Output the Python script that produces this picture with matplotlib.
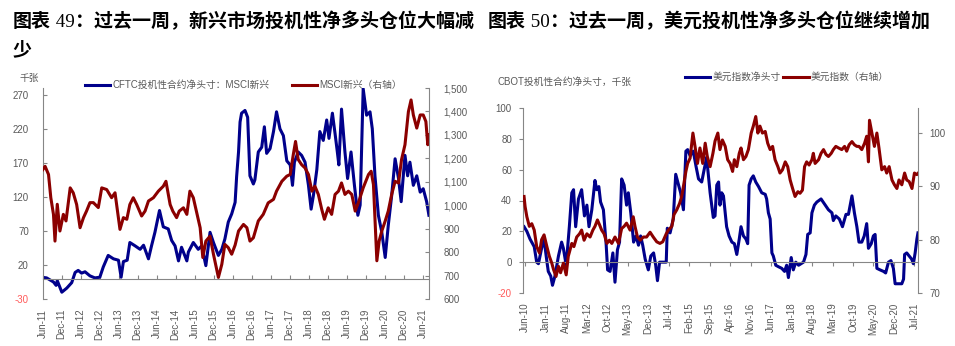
import matplotlib
matplotlib.use("Agg")
import matplotlib.pyplot as plt
from matplotlib.offsetbox import TextArea, HPacker, AnnotationBbox

plt.rcParams['font.family'] = ['Liberation Sans', 'Noto Sans CJK SC']
plt.rcParams['axes.unicode_minus'] = False

# ---- chart 49: CFTC net position on MSCI EM (k contracts) vs MSCI EM index ----
em_pos_t = [2011.39, 2011.52, 2011.70, 2011.77, 2011.80, 2011.92, 2012.05, 2012.18, 2012.27, 2012.35,
            2012.44, 2012.53, 2012.66, 2012.79, 2012.92, 2013.01, 2013.14, 2013.28, 2013.41, 2013.48,
            2013.54, 2013.64, 2013.71, 2013.85, 2013.98, 2014.07, 2014.20, 2014.28, 2014.37, 2014.49,
            2014.59, 2014.72, 2014.81, 2014.90, 2014.99, 2015.07, 2015.21, 2015.25, 2015.38, 2015.51,
            2015.60, 2015.71, 2015.82, 2015.91, 2016.04, 2016.13, 2016.21, 2016.30, 2016.39, 2016.48,
            2016.52, 2016.57, 2016.61, 2016.65, 2016.74, 2016.81, 2016.87, 2016.96, 2017.00, 2017.09,
            2017.18, 2017.25, 2017.31, 2017.40, 2017.49, 2017.57, 2017.66, 2017.75, 2017.84, 2017.93,
            2017.99, 2018.04, 2018.14, 2018.23, 2018.32, 2018.41, 2018.48, 2018.54, 2018.63, 2018.71,
            2018.80, 2018.89, 2018.95, 2019.04, 2019.11, 2019.17, 2019.21, 2019.28, 2019.37, 2019.44,
            2019.53, 2019.62, 2019.71, 2019.77, 2019.85, 2019.94, 2020.03, 2020.09, 2020.16, 2020.25,
            2020.34, 2020.43, 2020.51, 2020.60, 2020.69, 2020.78, 2020.85, 2020.95, 2021.02, 2021.08,
            2021.17, 2021.26, 2021.35, 2021.43, 2021.52, 2021.58]
em_pos = [2, 1, -5, -10, -3, -20, -14, -6, 9, 12,
          8, 10, 4, 1, 2, 17, 34, 29, 27, 2,
          25, 27, 53, 48, 43, 49, 29, 48, 68, 100,
          76, 73, 56, 48, 26, 46, 26, 39, 53, 43,
          48, 19, 68, 53, 34, 43, 58, 83, 95, 112,
          150, 186, 230, 243, 247, 237, 151, 139, 145, 186,
          193, 223, 184, 191, 216, 245, 220, 210, 173, 167,
          137, 171, 186, 181, 171, 137, 102, 122, 160, 216,
          203, 233, 206, 243, 213, 186, 167, 249, 186, 147,
          186, 137, 93, 108, 279, 240, 245, 220, 151, 93,
          68, 31, 78, 122, 176, 147, 113, 181, 151, 171,
          137, 151, 127, 132, 113, 93]

em_idx_t = [2011.39, 2011.48, 2011.57, 2011.63, 2011.70, 2011.74, 2011.80, 2011.87, 2011.96, 2012.03,
            2012.14, 2012.22, 2012.31, 2012.40, 2012.49, 2012.57, 2012.66, 2012.75, 2012.88, 2012.97,
            2013.10, 2013.23, 2013.32, 2013.45, 2013.54, 2013.63, 2013.71, 2013.80, 2013.89, 2014.02,
            2014.11, 2014.20, 2014.33, 2014.46, 2014.59, 2014.66, 2014.77, 2014.84, 2014.94, 2015.01,
            2015.12, 2015.21, 2015.29, 2015.38, 2015.47, 2015.56, 2015.63, 2015.71, 2015.82, 2015.91,
            2016.04, 2016.13, 2016.21, 2016.30, 2016.39, 2016.48, 2016.57, 2016.70, 2016.79, 2016.87,
            2016.96, 2017.09, 2017.22, 2017.35, 2017.49, 2017.57, 2017.71, 2017.84, 2017.93, 2018.01,
            2018.07, 2018.14, 2018.23, 2018.32, 2018.41, 2018.50, 2018.58, 2018.67, 2018.76, 2018.83,
            2018.93, 2019.02, 2019.11, 2019.20, 2019.28, 2019.37, 2019.46, 2019.55, 2019.64, 2019.74,
            2019.85, 2019.99, 2020.06, 2020.12, 2020.21, 2020.27, 2020.34, 2020.43, 2020.51, 2020.60,
            2020.69, 2020.78, 2020.86, 2020.95, 2021.04, 2021.11, 2021.17, 2021.26, 2021.35, 2021.43,
            2021.50, 2021.55, 2021.58]
em_idx = [1145, 1166, 1131, 1032, 961, 847, 1004, 890, 961, 933,
          1074, 1053, 1003, 904, 947, 975, 1011, 1011, 990, 1074,
          1067, 1032, 1053, 897, 947, 940, 1003, 1032, 1003, 954,
          975, 1018, 1032, 1060, 1081, 1102, 1003, 975, 947, 975,
          989, 961, 1060, 1032, 968, 904, 777, 847, 868, 791,
          692, 748, 833, 819, 791, 830, 890, 918, 904, 847,
          861, 933, 961, 1010, 1025, 1060, 1102, 1124, 1131, 1215,
          1272, 1195, 1173, 1159, 1131, 1060, 1081, 1046, 982, 940,
          989, 961, 1046, 1060, 1095, 1046, 1060, 1046, 975, 1018,
          1074, 1131, 1145, 1088, 763, 847, 890, 933, 975, 1046,
          1102, 1095, 1195, 1258, 1399, 1449, 1385, 1329, 1385, 1385,
          1357, 1258, 1300]

em_xlabels = ['Jun-11', 'Dec-11', 'Jun-12', 'Dec-12', 'Jun-13', 'Dec-13', 'Jun-14', 'Dec-14',
              'Jun-15', 'Dec-15', 'Jun-16', 'Dec-16', 'Jun-17', 'Dec-17', 'Jun-18', 'Dec-18',
              'Jun-19', 'Dec-19', 'Jun-20', 'Dec-20', 'Jun-21']

# ---- chart 50: CBOT net position on US dollar index vs dollar index ----
usd_pos_t = [2010.38, 2010.46, 2010.55, 2010.67, 2010.74, 2010.79, 2010.88, 2010.95, 2011.01, 2011.07,
             2011.14, 2011.19, 2011.26, 2011.36, 2011.45, 2011.50, 2011.58, 2011.67, 2011.74, 2011.79,
             2011.85, 2011.93, 2012.02, 2012.10, 2012.17, 2012.23, 2012.31, 2012.40, 2012.45, 2012.51,
             2012.56, 2012.64, 2012.72, 2012.76, 2012.83, 2012.91, 2012.97, 2013.04, 2013.10, 2013.16,
             2013.23, 2013.30, 2013.35, 2013.42, 2013.50, 2013.57, 2013.64, 2013.70, 2013.76, 2013.83,
             2013.92, 2013.99, 2014.07, 2014.13, 2014.18, 2014.24, 2014.33, 2014.43, 2014.46, 2014.54,
             2014.63, 2014.70, 2014.78, 2014.84, 2014.92, 2014.99, 2015.04, 2015.11, 2015.20, 2015.28,
             2015.35, 2015.44, 2015.51, 2015.58, 2015.68, 2015.77, 2015.82, 2015.87, 2015.92, 2015.96,
             2016.01, 2016.06, 2016.15, 2016.22, 2016.30, 2016.37, 2016.44, 2016.51, 2016.56, 2016.63,
             2016.70, 2016.75, 2016.79, 2016.85, 2016.91, 2016.98, 2017.06, 2017.15, 2017.25, 2017.29,
             2017.34, 2017.39, 2017.44, 2017.48, 2017.55, 2017.63, 2017.72, 2017.80, 2017.86, 2017.91,
             2017.99, 2018.05, 2018.12, 2018.20, 2018.27, 2018.34, 2018.41, 2018.46, 2018.53, 2018.58,
             2018.65, 2018.72, 2018.84, 2018.96, 2019.05, 2019.15, 2019.19, 2019.26, 2019.36, 2019.45,
             2019.55, 2019.62, 2019.72, 2019.79, 2019.86, 2019.92, 2020.00, 2020.07, 2020.14, 2020.19,
             2020.27, 2020.33, 2020.38, 2020.43, 2020.52, 2020.62, 2020.68, 2020.76, 2020.83, 2020.90,
             2020.95, 2021.05, 2021.14, 2021.19, 2021.22, 2021.28, 2021.35, 2021.42, 2021.47, 2021.52,
             2021.57, 2021.60]
usd_pos = [23, 20, 15, 10, 0, -1, 9, 15, 4, -6,
           -9, -15, -9, 4, 13, 9, -2, 23, 45, 47,
           23, 41, 47, 30, 37, 23, 34, 53, 47, 49,
           39, 34, 11, -5, -6, 6, -13, 8, 13, 54,
           50, 37, 45, 32, 13, 17, 11, 17, 11, 2,
           -5, 4, 6, -2, -12, 0, 0, 0, 22, 19,
           28, 57, 50, 45, 34, 72, 73, 69, 72, 62,
           54, 52, 60, 68, 45, 29, 30, 50, 52, 37,
           45, 43, 23, 17, 13, 12, 5, 15, 23, 17,
           15, 12, 50, 54, 56, 52, 49, 45, 44, 41,
           32, 28, 6, 4, -2, -3, -4, -6, -2, -10,
           3, -5, 0, -2, -1, 0, 5, 18, 19, 32,
           37, 39, 41, 37, 34, 32, 27, 30, 28, 23,
           31, 31, 43, 32, 23, 13, 13, 17, 25, 9,
           12, 17, 18, -4, -5, -6, -7, 0, 1, -4,
           -14, -14, -14, -11, 5, 6, 4, 2, -1, 6,
           15, 19]

usd_idx_t = [2010.38, 2010.41, 2010.46, 2010.53, 2010.60, 2010.67, 2010.74, 2010.82, 2010.88, 2010.95,
             2011.03, 2011.10, 2011.17, 2011.22, 2011.29, 2011.36, 2011.42, 2011.50, 2011.58, 2011.64,
             2011.74, 2011.80, 2011.88, 2011.96, 2012.02, 2012.09, 2012.17, 2012.26, 2012.34, 2012.40,
             2012.47, 2012.53, 2012.59, 2012.66, 2012.74, 2012.81, 2012.88, 2012.97, 2013.07, 2013.16,
             2013.23, 2013.30, 2013.40, 2013.49, 2013.54, 2013.61, 2013.69, 2013.78, 2013.87, 2013.97,
             2014.06, 2014.16, 2014.25, 2014.33, 2014.43, 2014.49, 2014.59, 2014.65, 2014.73, 2014.81,
             2014.87, 2014.92, 2014.99, 2015.04, 2015.11, 2015.19, 2015.25, 2015.32, 2015.39, 2015.47,
             2015.54, 2015.60, 2015.68, 2015.76, 2015.82, 2015.90, 2015.96, 2016.03, 2016.11, 2016.18,
             2016.25, 2016.32, 2016.37, 2016.44, 2016.51, 2016.56, 2016.63, 2016.70, 2016.77, 2016.85,
             2016.91, 2016.98, 2017.04, 2017.10, 2017.17, 2017.25, 2017.32, 2017.39, 2017.46, 2017.53,
             2017.61, 2017.67, 2017.74, 2017.82, 2017.89, 2017.96, 2018.03, 2018.10, 2018.18, 2018.24,
             2018.31, 2018.37, 2018.43, 2018.50, 2018.58, 2018.62, 2018.67, 2018.77, 2018.84, 2018.91,
             2018.98, 2019.05, 2019.13, 2019.19, 2019.26, 2019.34, 2019.43, 2019.51, 2019.57, 2019.64,
             2019.72, 2019.79, 2019.86, 2019.92, 2020.00, 2020.08, 2020.14, 2020.19, 2020.22, 2020.29,
             2020.36, 2020.43, 2020.49, 2020.57, 2020.65, 2020.71, 2020.78, 2020.86, 2020.93, 2021.00,
             2021.06, 2021.14, 2021.22, 2021.28, 2021.35, 2021.43, 2021.50, 2021.57, 2021.61]
usd_idx = [88.1, 86.2, 84.3, 82.5, 83.0, 81.8, 78.7, 77.5, 80.0, 80.9,
           78.7, 76.9, 75.6, 74.4, 73.1, 75.0, 73.8, 75.6, 73.4, 76.9,
           79.3, 78.7, 80.5, 81.1, 81.8, 79.9, 81.1, 80.5, 81.8, 82.5,
           83.7, 82.8, 81.8, 81.1, 79.3, 79.9, 79.3, 80.5, 79.3, 82.1,
           82.5, 83.1, 81.8, 84.3, 82.5, 80.5, 79.9, 80.5, 80.5, 81.4,
           80.5, 79.6, 79.3, 79.6, 81.1, 81.8, 82.5, 84.7, 85.6, 86.8,
           88.1, 90.0, 92.8, 94.3, 95.3, 100.0, 97.5, 94.3, 97.2, 94.3,
           98.1, 95.6, 93.7, 96.2, 98.5, 100.0, 96.9, 98.7, 97.5, 95.0,
           94.3, 92.8, 95.0, 93.7, 96.2, 97.2, 95.0, 95.6, 96.9, 100.0,
           101.3, 103.1, 100.0, 101.3, 100.0, 100.3, 98.1, 96.9, 97.5, 95.0,
           93.7, 92.5, 93.1, 94.6, 93.7, 91.2, 89.6, 88.1, 89.0, 88.7,
           89.3, 93.7, 94.6, 94.0, 95.0, 96.2, 94.3, 95.0, 96.2, 96.9,
           96.0, 95.6, 96.2, 96.9, 97.5, 97.2, 96.9, 97.5, 96.6, 97.8,
           98.4, 97.8, 97.5, 97.5, 96.9, 98.1, 99.4, 94.6, 102.4, 100.0,
           97.5, 100.0, 97.2, 93.1, 93.7, 92.5, 93.7, 91.2, 90.3, 89.6,
           91.2, 90.3, 92.5, 91.2, 90.9, 89.6, 92.5, 92.2, 92.5]

usd_xlabels = ['Jun-10', 'Jan-11', 'Aug-11', 'Mar-12', 'Oct-12', 'May-13', 'Dec-13', 'Jul-14',
               'Feb-15', 'Sep-15', 'Apr-16', 'Nov-16', 'Jun-17', 'Jan-18', 'Aug-18', 'Mar-19',
               'Oct-19', 'May-20', 'Dec-20', 'Jul-21']

BLUE = '#00008B'
RED = '#8B0000'
GRAY = '#868686'
TXT = '#595959'
NEG = '#FF5B5B'
MONTHS = ['Jan', 'Feb', 'Mar', 'Apr', 'May', 'Jun', 'Jul', 'Aug', 'Sep', 'Oct', 'Nov', 'Dec']


def label_pos(lab):
    m, y = lab.split('-')
    return 2000 + int(y) + MONTHS.index(m) / 12


W, H = 955, 346
fig = plt.figure(figsize=(W / 100, H / 100), dpi=100)


def add_axes_px(x0, y0, x1, y1):
    return fig.add_axes([x0 / W, 1 - y1 / H, (x1 - x0) / W, (y1 - y0) / H])


def setup(ax, axr, xlabels, tick_dir, ypad, ypad_r, xpad):
    ax.spines['top'].set_visible(False)
    ax.spines['right'].set_visible(False)
    ax.spines['bottom'].set_position(('data', 0))
    ax.spines['left'].set_color(GRAY)
    ax.spines['bottom'].set_color(GRAY)
    for s in ['top', 'left', 'bottom']:
        axr.spines[s].set_visible(False)
    axr.spines['right'].set_color(GRAY)
    ticks = [label_pos(l) for l in xlabels]
    ax.set_xticks(ticks)
    ax.tick_params(axis='x', direction=tick_dir, length=3, color=GRAY, labelbottom=False)
    ax.tick_params(axis='y', direction=tick_dir, length=3, color=GRAY,
                   labelcolor=TXT, labelsize=7, pad=ypad)
    axr.tick_params(axis='y', direction=tick_dir, length=3, color=GRAY,
                    labelcolor=TXT, labelsize=7, pad=ypad_r)
    sec = ax.secondary_xaxis('bottom')
    sec.set_xticks(ticks, xlabels)
    sec.spines['bottom'].set_visible(False)
    sec.tick_params(length=0, labelsize=7, labelcolor=TXT, labelrotation=90, pad=xpad)
    ax.get_yticklabels()[0].set_color(NEG)


# left chart
ax1 = add_axes_px(42.7, 88, 429.3, 299)
l1, = ax1.plot(em_pos_t, em_pos, color=BLUE, lw=2.2)
ax1.set_xlim(2011.417, 2021.59)
ax1.set_ylim(-30, 280)
ax1.set_yticks(range(-30, 271, 50))
ax1r = ax1.twinx()
l2, = ax1r.plot(em_idx_t, em_idx, color=RED, lw=2.2)
ax1r.set_ylim(600, 1500)
ax1r.set_yticks(range(600, 1501, 100), [f'{v:,}' for v in range(600, 1501, 100)])
setup(ax1, ax1r, em_xlabels, 'in', 10, 10, 7)

fig.legend([l1, l2], ['CFTC投机性合约净头寸：MSCI新兴', 'MSCI新兴（右轴）'],
           loc='center left', bbox_to_anchor=(85 / W, 1 - 85 / H), ncol=2, frameon=False,
           fontsize=7, handlelength=2.6, handletextpad=0.2, columnspacing=2.3,
           borderpad=0, borderaxespad=0, labelcolor=TXT)
fig.text(29 / W, 1 - 78 / H, '千张', ha='center', va='center', fontsize=7, color=TXT)

# right chart
ax2 = add_axes_px(523, 108, 918.3, 293)
l3, = ax2.plot(usd_pos_t, usd_pos, color=BLUE, lw=2.2)
ax2.set_xlim(2010.35, 2021.61)
ax2.set_ylim(-20, 100)
ax2.set_yticks(range(-20, 101, 20))
ax2r = ax2.twinx()
l4, = ax2r.plot(usd_idx_t, usd_idx, color=RED, lw=2.2)
ax2r.set_ylim(70, 104.7)
ax2r.set_yticks(range(70, 101, 10))
setup(ax2, ax2r, usd_xlabels, 'out', 5, 5, 7)

fig.legend([l3, l4], ['美元指数净头寸', '美元指数（右轴）'],
           loc='center left', bbox_to_anchor=(685 / W, 1 - 77 / H), ncol=2, frameon=False,
           fontsize=7, handlelength=2.6, handletextpad=0.2, columnspacing=0.3,
           borderpad=0, borderaxespad=0, labelcolor=TXT)
fig.text(498 / W, 1 - 82 / H, 'CBOT投机性合约净头寸，千张', ha='left', va='center',
         fontsize=7, color=TXT)


# titles: bold CJK with the figure number in a serif face
def title(x, y, num, rest):
    bold = dict(family='Noto Sans CJK SC', weight='bold', size=13.7, color='black')
    serif = dict(family='Liberation Serif', size=13.7, color='black')
    box = HPacker(children=[TextArea('图表', textprops=bold),
                            TextArea(' ' + num, textprops=serif),
                            TextArea('：' + rest, textprops=bold)],
                  align='baseline', pad=0, sep=0)
    fig.add_artist(AnnotationBbox(box, (x, H - y), xycoords='figure pixels',
                                  box_alignment=(0, 0.5), frameon=False, pad=0))


title(13, 21, '49', '过去一周，新兴市场投机性净多头仓位大幅减')
fig.text(13 / W, 1 - 50 / H, '少', ha='left', va='center', fontsize=13.7,
         family='Noto Sans CJK SC', weight='bold')
title(488, 21, '50', '过去一周，美元投机性净多头仓位继续增加')

fig.savefig('out.png', dpi=100)
